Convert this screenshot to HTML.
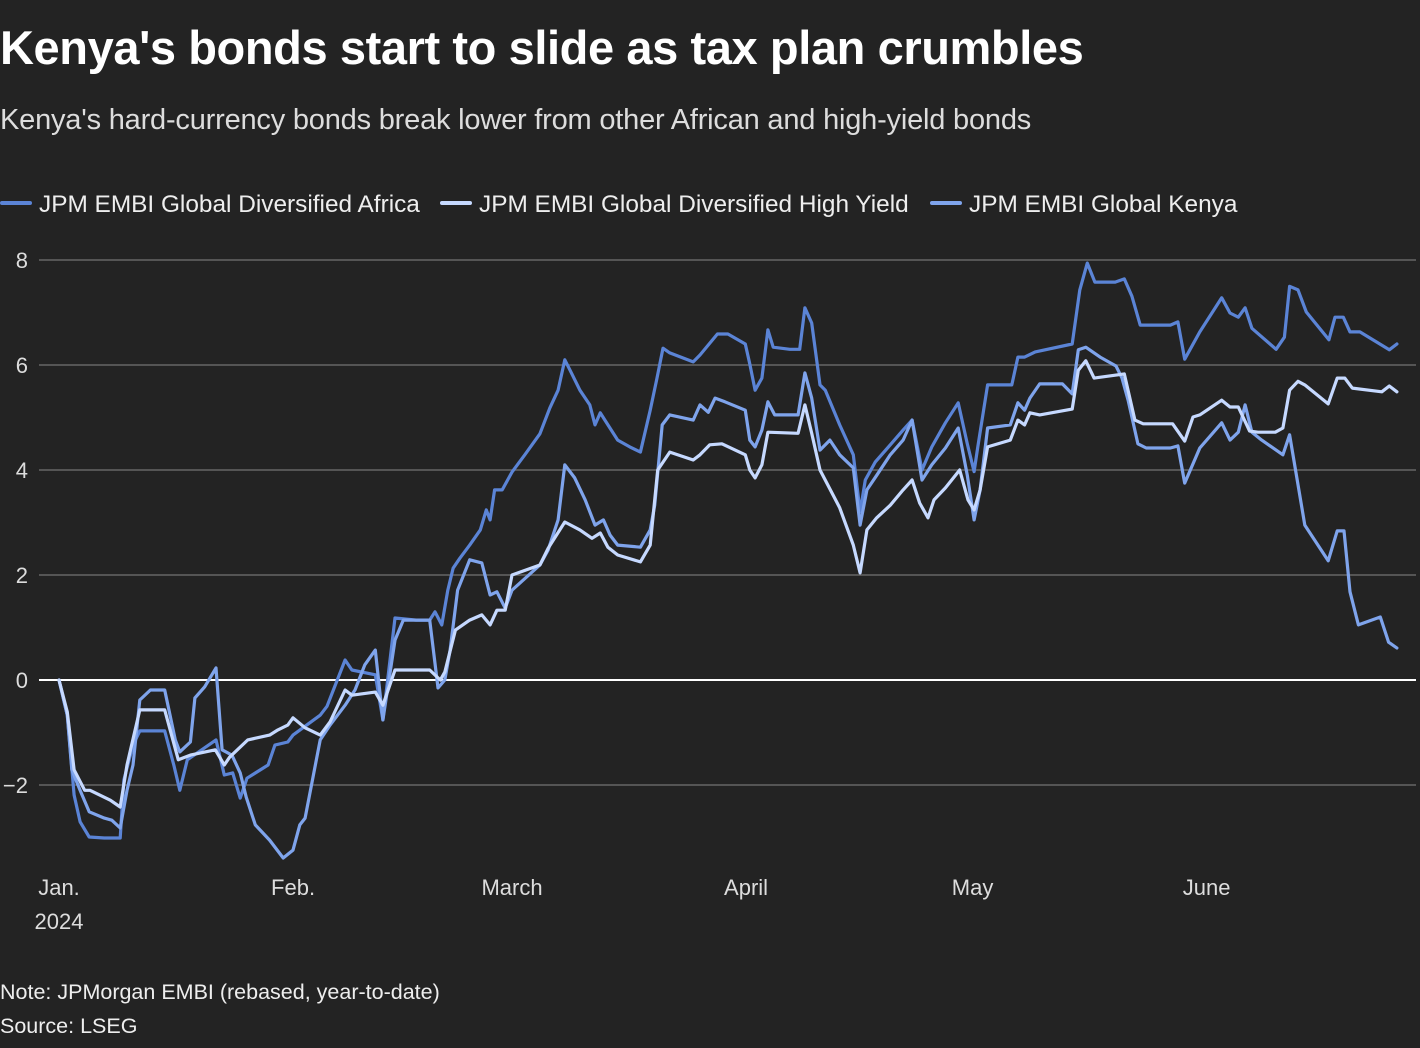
<!DOCTYPE html>
<html><head><meta charset="utf-8"><style>
html,body{margin:0;padding:0;background:#232323;}
body{width:1420px;height:1048px;overflow:hidden;font-family:"Liberation Sans",sans-serif;color:#fff;position:relative;}
.t{position:absolute;left:0;white-space:nowrap;}
</style></head><body>
<div class="t" style="top:20px;font-size:47px;font-weight:bold;letter-spacing:-0.4px;">Kenya's bonds start to slide as tax plan crumbles</div>
<div class="t" style="top:104px;font-size:29px;color:#ddd;letter-spacing:-0.2px;">Kenya's hard-currency bonds break lower from other African and high-yield bonds</div>
<svg id="chart" width="1420" height="1048" style="position:absolute;left:0;top:0" font-family="Liberation Sans, sans-serif"></svg>
<div class="t" style="top:980px;font-size:21.5px;color:#eee;">Note: JPMorgan EMBI (rebased, year-to-date)</div>
<div class="t" style="top:1014px;font-size:21.5px;color:#eee;">Source: LSEG</div>
<script>
const seriesNames=["JPM EMBI Global Diversified Africa","JPM EMBI Global Diversified High Yield","JPM EMBI Global Kenya"];
const seriesColors=["#5b84d6","#c6d9ff","#7fa4ec"];
const yTicks=[-2,0,2,4,6,8];
const monthDays=[0,31,60,91,121,152];
const monthLabels=["Jan.","Feb.","March","April","May","June"];
const africaDays=[0,1.1,2.0,2.8,4.0,6.0,8.1,8.6,9.8,10.7,14.0,15.2,16.0,17.0,20.8,21.9,23.0,24.0,24.9,27.7,28.6,30.3,31.0,34.6,35.5,37.9,38.8,41.9,42.9,44.5,47.3,49.1,49.8,50.7,51.5,52.2,53.1,54.4,55.8,56.6,57.1,57.7,58.7,60.0,61.7,63.7,65.0,66.1,67.0,67.7,69.0,70.3,71.0,71.7,72.3,74.0,75.6,77.0,78.3,79.2,80.0,80.9,84.0,84.9,87.2,88.6,90.9,91.5,92.2,93.1,93.9,94.6,96.8,98.1,98.8,99.7,100.8,101.5,103.4,105.2,106.1,106.8,108.1,110.1,111.8,113.0,114.3,115.6,117.4,119.1,120.3,121.2,121.7,123.0,126.2,127.0,127.9,129.3,134.2,135.2,136.2,137.2,139.9,141.1,142.1,143.2,144.5,147.2,148.2,149.1,151.1,154.0,155.1,156.2,157.1,158.0,161.2,162.3,163.0,164.1,165.2,168.2,169.0,170.1,171.0,172.3,176.2,177.2];
const africaValues=[0,-0.67,-2.19,-2.70,-2.99,-3.01,-3.01,-1.90,-1.24,-0.97,-0.97,-1.62,-2.10,-1.52,-1.14,-1.81,-1.77,-2.25,-1.87,-1.62,-1.24,-1.18,-1.05,-0.67,-0.50,0.38,0.19,0.10,-0.76,1.18,1.14,1.14,1.30,1.05,1.71,2.13,2.32,2.57,2.86,3.24,3.05,3.62,3.62,3.96,4.29,4.69,5.18,5.52,6.10,5.90,5.52,5.24,4.86,5.09,4.95,4.57,4.44,4.34,5.14,5.75,6.32,6.23,6.06,6.19,6.59,6.59,6.40,6.02,5.52,5.75,6.67,6.34,6.30,6.30,7.09,6.80,5.62,5.52,4.86,4.29,3.20,3.81,4.15,4.48,4.76,4.95,4.00,4.44,4.90,5.28,4.50,3.97,4.44,5.62,5.62,6.15,6.15,6.25,6.40,7.43,7.94,7.58,7.58,7.64,7.31,6.76,6.76,6.76,6.82,6.11,6.63,7.28,6.99,6.91,7.09,6.70,6.30,6.53,7.50,7.43,7.01,6.48,6.91,6.91,6.63,6.63,6.29,6.40];
const hyDays=[0,1.1,2.0,3.4,4.1,6.8,8.1,9.0,10.7,14.0,15.8,17.4,20.7,21.9,22.6,25.0,27.9,29.0,30.3,31.0,32.6,34.6,35.9,37.9,38.8,41.9,42.9,44.5,49.1,50.5,51.1,52.5,54.4,56.0,57.1,58.0,59.1,60.0,63.7,64.8,67.0,69.0,70.6,71.7,72.7,74.0,77.0,78.3,79.3,80.9,84.0,84.9,86.2,87.8,90.9,91.5,92.2,93.1,93.9,97.9,98.8,99.7,100.8,103.4,105.2,106.1,107.0,108.3,110.1,111.8,113.0,114.0,115.1,115.9,117.4,119.3,120.4,121.2,122.0,123.0,126.0,127.0,127.9,128.6,129.9,134.2,135.0,136.0,137.1,141.1,142.5,143.6,147.5,149.1,150.2,151.1,154.0,155.1,156.2,157.7,158.8,161.1,162.1,163.0,164.1,165.0,168.1,169.3,170.3,171.3,175.2,176.2,177.2];
const hyValues=[0,-0.61,-1.71,-2.10,-2.10,-2.29,-2.42,-1.62,-0.57,-0.57,-1.52,-1.43,-1.33,-1.62,-1.47,-1.14,-1.05,-0.95,-0.86,-0.72,-0.91,-1.05,-0.80,-0.19,-0.29,-0.23,-0.48,0.19,0.19,0.00,0.15,0.95,1.14,1.24,1.05,1.33,1.33,2.00,2.19,2.51,3.01,2.86,2.70,2.80,2.53,2.38,2.25,2.57,4.00,4.34,4.19,4.29,4.48,4.50,4.29,4.00,3.85,4.10,4.72,4.70,5.24,4.70,4.00,3.28,2.57,2.04,2.86,3.09,3.33,3.62,3.81,3.37,3.09,3.43,3.66,4.00,3.43,3.24,3.62,4.44,4.57,4.95,4.86,5.09,5.05,5.16,5.90,6.08,5.75,5.83,4.95,4.88,4.88,4.55,5.01,5.05,5.33,5.20,5.20,4.74,4.72,4.72,4.80,5.52,5.69,5.62,5.26,5.75,5.75,5.56,5.49,5.60,5.49];
const kenyaDays=[0,1.1,1.7,2.8,4.0,6.0,7.0,8.1,9.0,9.8,10.7,12.1,14.0,15.4,16.0,17.4,18.0,19.3,20.8,21.6,22.9,24.0,24.8,26.0,27.9,29.7,31.0,31.9,32.6,34.6,35.9,37.9,39.2,40.5,41.9,42.9,44.5,45.6,49.1,50.2,51.1,51.8,52.8,54.4,56.0,57.1,58.0,59.1,60.0,63.7,64.8,66.1,67.0,68.3,69.7,71.0,72.1,73.0,74.0,77.0,78.3,78.9,79.9,80.9,84.0,84.9,86.0,86.9,88.2,90.9,91.5,92.2,93.1,93.9,94.8,97.9,98.8,99.7,100.8,102.1,103.4,105.2,106.1,107.0,108.3,110.1,111.8,113.0,114.3,115.6,117.4,119.1,120.3,121.2,122.0,123.0,126.0,127.0,127.9,128.6,129.9,132.9,134.2,135.0,136.0,137.9,140.0,140.8,141.6,142.9,144.0,147.2,148.2,149.1,151.1,154.0,155.1,156.2,157.1,158.0,159.3,162.1,163.0,165.0,168.1,169.3,170.2,171.0,172.1,175.0,176.1,177.2];
const kenyaValues=[0,-0.67,-1.71,-2.10,-2.51,-2.63,-2.67,-2.82,-2.10,-1.62,-0.38,-0.19,-0.19,-1.14,-1.37,-1.18,-0.34,-0.13,0.23,-1.33,-1.43,-1.77,-2.23,-2.76,-3.05,-3.39,-3.24,-2.76,-2.63,-1.14,-0.86,-0.48,-0.19,0.29,0.57,-0.76,0.76,1.14,1.14,-0.15,0.00,0.57,1.71,2.29,2.23,1.62,1.68,1.37,1.71,2.19,2.48,3.05,4.10,3.85,3.43,2.95,3.05,2.76,2.57,2.53,2.86,3.33,4.86,5.05,4.95,5.24,5.10,5.37,5.30,5.14,4.57,4.44,4.76,5.30,5.05,5.05,5.85,5.37,4.38,4.57,4.29,4.04,2.95,3.62,3.90,4.29,4.57,4.95,3.81,4.10,4.42,4.80,3.90,3.05,3.62,4.80,4.86,5.28,5.14,5.37,5.64,5.64,5.45,6.29,6.34,6.15,5.98,5.75,5.33,4.50,4.42,4.42,4.46,3.75,4.42,4.90,4.57,4.72,5.24,4.72,4.57,4.29,4.67,2.95,2.27,2.84,2.84,1.68,1.05,1.20,0.72,0.61];

const NS="http://www.w3.org/2000/svg";
const svg=document.getElementById('chart');
const xS=d=>59+d*7.55;
const yS=v=>680-v*52.5;
function mk(tag,attrs){const e=document.createElementNS(NS,tag);for(const k in attrs)e.setAttribute(k,attrs[k]);svg.appendChild(e);return e;}
yTicks.forEach(v=>{
  const l=mk('line',{x1:39,x2:1416,y1:yS(v),y2:yS(v),stroke:v===0?'#ffffff':'#666','stroke-width':v===0?2:1.5});
  
  
  const t=mk('text',{x:28,y:yS(v)+8,'text-anchor':'end','font-size':22,fill:'#ddd'});
  t.textContent=v<0?'\u2212'+Math.abs(v):String(v);
  
  
});
monthDays.forEach((d,i)=>{
  const t=mk('text',{x:xS(d),y:895,'text-anchor':'middle','font-size':22,fill:'#ddd'});
  t.textContent=monthLabels[i];
  
  
});
const yr=mk('text',{x:xS(0),y:929,'text-anchor':'middle','font-size':22,fill:'#ddd'});
yr.textContent='2024';


const all=[[africaDays,africaValues],[hyDays,hyValues],[kenyaDays,kenyaValues]];
const order=[0,2,1];
order.forEach(i=>{
  const [ds,vs]=all[i];
  const p=mk('polyline',{points:ds.map((d,j)=>xS(d).toFixed(1)+','+yS(vs[j]).toFixed(1)).join(' '),fill:'none',stroke:seriesColors[i],'stroke-width':3.2,'stroke-linejoin':'round','stroke-linecap':'round'});
  
  
});
const legX=[0,440,930];
seriesNames.forEach((n,i)=>{
  const l=mk('line',{x1:legX[i]+2,x2:legX[i]+30,y1:203,y2:203,stroke:seriesColors[i],'stroke-width':4,'stroke-linecap':'round'});
  
  
  const t=mk('text',{x:legX[i]+39,y:212,'font-size':24.4,fill:'#eee'});
  t.textContent=n;
  
  
});
</script>
</body></html>
